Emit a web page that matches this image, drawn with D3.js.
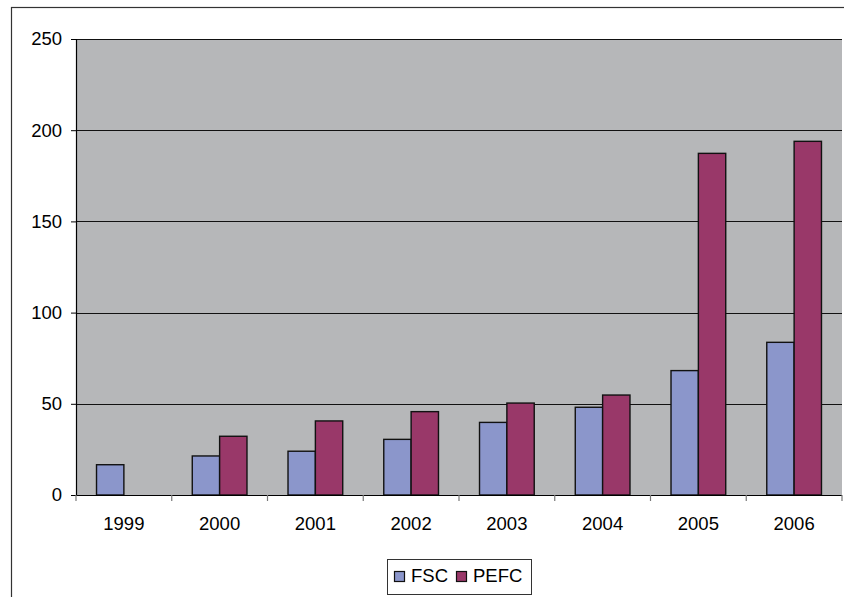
<!DOCTYPE html>
<html lang="en">
<head>
    <meta charset="UTF-8" />
    <title>FSC / PEFC</title>
    <script src="https://d3js.org/d3.v7.min.js"></script>
    <style>
        body { margin: 0; background: #fff; }
        text {
            font-family: "Liberation Sans", Arial, sans-serif;
            font-size: 18.5px;
            fill: #000;
        }
    </style>
</head>
<body>
    <script>
        // data
        const years = ["1999", "2000", "2001", "2002", "2003", "2004", "2005", "2006"];
        const series = ["FSC", "PEFC"];
        const fsc = [16.6, 21.4, 24.0, 30.5, 39.8, 48.1, 68.2, 83.7];
        const pefc = [0, 32.2, 40.6, 45.7, 50.4, 54.8, 187.3, 193.9];
        const yTicks = [0, 50, 100, 150, 200, 250];
        const colors = ["#8b96cb", "#993869"];

        const width = 844, height = 597;
        const plot = { left: 76, right: 842, top: 39, bottom: 495 };

        const svg = d3.select("body").append("svg")
            .attr("width", width)
            .attr("height", height);

        // outer chart border (runs off the right/bottom edge)
        svg.append("rect")
            .attr("x", 11.5).attr("y", 7.5)
            .attr("width", 900).attr("height", 700)
            .attr("fill", "#fff")
            .attr("stroke", "#333").attr("stroke-width", 1.2);

        const x0 = d3.scaleBand().domain(years).range([plot.left, plot.right]);
        const barW = x0.bandwidth() / 3.5;   // gap width 150%
        const x1 = d3.scaleBand().domain(series)
            .range([barW * 0.75, barW * 2.75]);
        const y = d3.scaleLinear().domain([0, 250]).range([plot.bottom, plot.top]);

        // plot area
        svg.append("rect")
            .attr("x", plot.left).attr("y", plot.top)
            .attr("width", plot.right - plot.left)
            .attr("height", plot.bottom - plot.top)
            .attr("fill", "#b6b7b9");

        // gridlines
        svg.append("g")
            .selectAll("line")
            .data(yTicks.slice(1))
            .join("line")
            .attr("x1", plot.left).attr("x2", plot.right)
            .attr("y1", d => Math.round(y(d)) + 0.5)
            .attr("y2", d => Math.round(y(d)) + 0.5)
            .attr("stroke", "#111").attr("stroke-width", 1);

        // bars
        const rows = years.map((yr, i) => ({ year: yr, values: [fsc[i], pefc[i]] }));
        svg.append("g")
            .selectAll("g")
            .data(rows)
            .join("g")
            .attr("transform", d => `translate(${x0(d.year)},0)`)
            .selectAll("rect")
            .data(d => d.values.map((v, j) => ({ key: series[j], value: v, j })))
            .join("rect")
            .filter(d => d.value > 0)
            .attr("x", d => x1(d.key))
            .attr("y", d => y(d.value))
            .attr("width", x1.bandwidth())
            .attr("height", d => y(0) - y(d.value))
            .attr("fill", d => colors[d.j])
            .attr("stroke", "#111")
            .attr("stroke-width", 1.4);

        // y axis
        const yAxis = svg.append("g")
            .attr("transform", `translate(${plot.left},0)`)
            .call(d3.axisLeft(y).tickValues(yTicks).tickSize(5).tickPadding(9).tickFormat(d3.format("d")));
        yAxis.select(".domain").attr("stroke", "#000").attr("stroke-width", 1.2);
        yAxis.selectAll(".tick line").attr("stroke", "#000");
        yAxis.selectAll("text").style("font-size", "18.5px").attr("fill", "#000")
            .attr("font-family", null);

        // x axis: ticks at category boundaries
        const xg = svg.append("g");
        xg.append("line")
            .attr("x1", plot.left).attr("x2", plot.right)
            .attr("y1", plot.bottom + 0.5).attr("y2", plot.bottom + 0.5)
            .attr("stroke", "#000").attr("stroke-width", 1.2);
        xg.selectAll("line.tk")
            .data(years.concat(["end"]))
            .join("line")
            .attr("class", "tk")
            .attr("x1", (d, i) => plot.left + i * x0.bandwidth())
            .attr("x2", (d, i) => plot.left + i * x0.bandwidth())
            .attr("y1", plot.bottom).attr("y2", plot.bottom + 6)
            .attr("stroke", "#777").attr("stroke-width", 1.2);
        xg.selectAll("text")
            .data(years)
            .join("text")
            .attr("x", d => x0(d) + x0.bandwidth() / 2)
            .attr("y", 530)
            .attr("text-anchor", "middle")
            .text(d => d);

        // legend
        const lg = svg.append("g");
        lg.append("rect")
            .attr("x", 387.5).attr("y", 559.5)
            .attr("width", 144).attr("height", 35)
            .attr("fill", "#fff").attr("stroke", "#333").attr("stroke-width", 1);
        const legendX = [394, 456];
        const item = lg.selectAll("g.item")
            .data(series)
            .join("g")
            .attr("class", "item")
            .attr("transform", (d, i) => `translate(${legendX[i]},0)`);
        item.append("rect")
            .attr("x", 0.5).attr("y", 571.5)
            .attr("width", 10).attr("height", 10)
            .attr("fill", (d, i) => colors[i])
            .attr("stroke", "#111").attr("stroke-width", 1.2);
        item.append("text")
            .attr("x", 17).attr("y", 582)
            .text(d => d);
    </script>
</body>
</html>
